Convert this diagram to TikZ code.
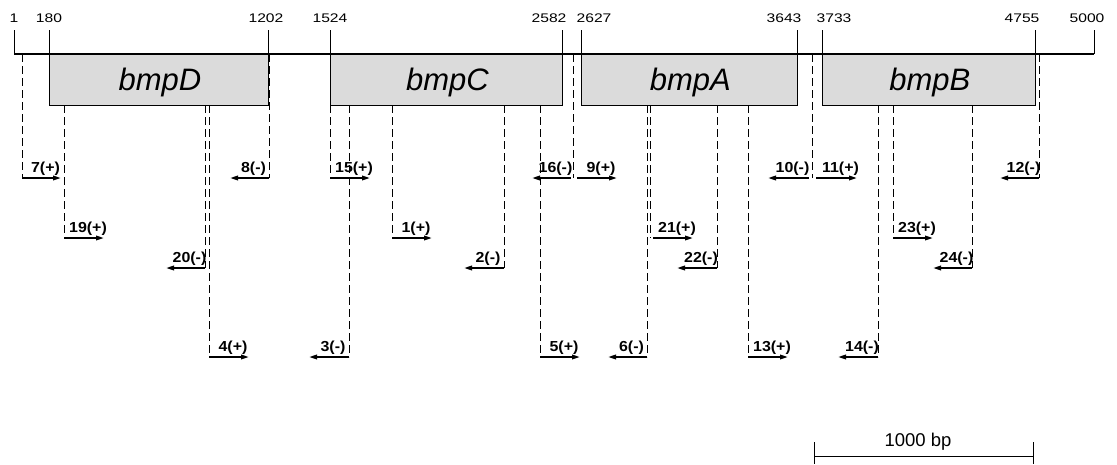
\documentclass[tikz,border=0pt]{standalone}
\usepackage{fontspec}
\setmainfont{Liberation Sans}
\newfontfamily\numfont[FakeStretch=1.25]{Liberation Sans}
\newfontfamily\primfont[FakeStretch=1.1]{Liberation Sans}
\usetikzlibrary{arrows.meta,calc}
\begin{document}
\begin{tikzpicture}[x=1pt,y=-1pt,
  gene/.style={draw=black,line width=0.8pt,fill=black!14,inner sep=0pt,anchor=north west},
  genelabel/.style={font=\itshape\fontsize{31}{32}\selectfont,anchor=base,inner sep=0pt},
  tickline/.style={line width=0.9pt},
  poslabel/.style={font=\numfont\fontsize{12.5}{13}\selectfont,anchor=base,inner sep=0pt},
  guide/.style={dash pattern=on 8pt off 4pt,line width=0.85pt},
  primer/.style={line width=1.8pt,-{Triangle[length=8pt,width=4.5pt]}},
  plabel/.style={font=\primfont\bfseries\fontsize{14.5}{15}\selectfont,inner sep=0pt,anchor=base}]
\useasboundingbox (0,0) rectangle (1117,464);

% genes
\node[gene,minimum width=219pt,minimum height=51pt] (bmpD) at (49,54) {};
\node[gene,minimum width=232pt,minimum height=51pt] (bmpC) at (330,54) {};
\node[gene,minimum width=216pt,minimum height=51pt] (bmpA) at (581,54) {};
\node[gene,minimum width=213pt,minimum height=51pt] (bmpB) at (822,54) {};
\foreach \g in {bmpD,bmpC,bmpA,bmpB}{
  \path (\g.center) ++(1,10.5) node[genelabel] (\g lab) {\g};
}

% main line
\coordinate (lineL) at (14,54);
\coordinate (lineR) at (1094,54);
\draw[line width=2.6pt] (lineL) -- (lineR);

% ticks and position labels
\foreach \tx/\lx/\txt [count=\i] in {14/14/1,49/49/180,268/266/1202,330/330/1524,562/549/2582,581/594/2627,797/784/3643,822/834/3733,1035/1022/4755,1094/1087/5000}{
  \coordinate (tb\i) at (\tx,54);
  \coordinate (tt\i) at (\tx,30);
  \draw[tickline] (tb\i) -- (tt\i);
  \node[poslabel] (pl\i) at (\lx,22.5) {\txt};
}

% primers
\foreach \x/\t/\y/\s/\e/\lab [count=\i] in {
  22/54/178/22/61/7(+),
  64/105/238/64/104/19(+),
  205/105/268/205/166/20(-),
  209/105/357/209/249/4(+),
  269/54/178/269/230/8(-),
  330/105/178/330/370/15(+),
  349/105/357/349/309/3(-),
  392/105/238/392/432/1(+),
  504/105/268/504/464/2(-),
  540/105/357/540/580/5(+),
  573/54/178/571/532/16(-),
  573/54/178/577/617/9(+),
  647/105/357/647/608/6(-),
  650/105/238/653/693/21(+),
  717/105/268/717/677/22(-),
  748/105/357/748/788/13(+),
  812/54/178/809/768/10(-),
  812/54/178/816/857/11(+),
  878/105/357/878/838/14(-),
  893/105/238/893/933/23(+),
  972/105/268/972/933/24(-),
  1039/54/178/1039/1000/12(-)}{
  \coordinate (gt\i) at (\x,\t);
  \coordinate (gb\i) at (\x,\y);
  \coordinate (as\i) at (\s,\y);
  \coordinate (ae\i) at (\e,\y);
  \draw[guide] (gt\i) -- (gb\i);
  \draw[primer] (as\i) -- (ae\i);
  \path ($(as\i)!0.5!(ae\i)$) ++(4,-6) node[plabel] (pr\i) {\lab};
}

% scale bar
\coordinate (sbL) at (814,456);
\coordinate (sbR) at (1033,456);
\coordinate (sbLt) at (814,442);
\coordinate (sbLb) at (814,464);
\coordinate (sbRt) at (1033,442);
\coordinate (sbRb) at (1033,464);
\draw[line width=1pt] (sbL) -- (sbR);
\draw[line width=1pt] (sbLt) -- (sbLb);
\draw[line width=1pt] (sbRt) -- (sbRb);
\node[font=\fontsize{18.5}{19}\selectfont,anchor=base,inner sep=0pt] (sblab) at (918,446) {1000 bp};
\end{tikzpicture}
\end{document}
